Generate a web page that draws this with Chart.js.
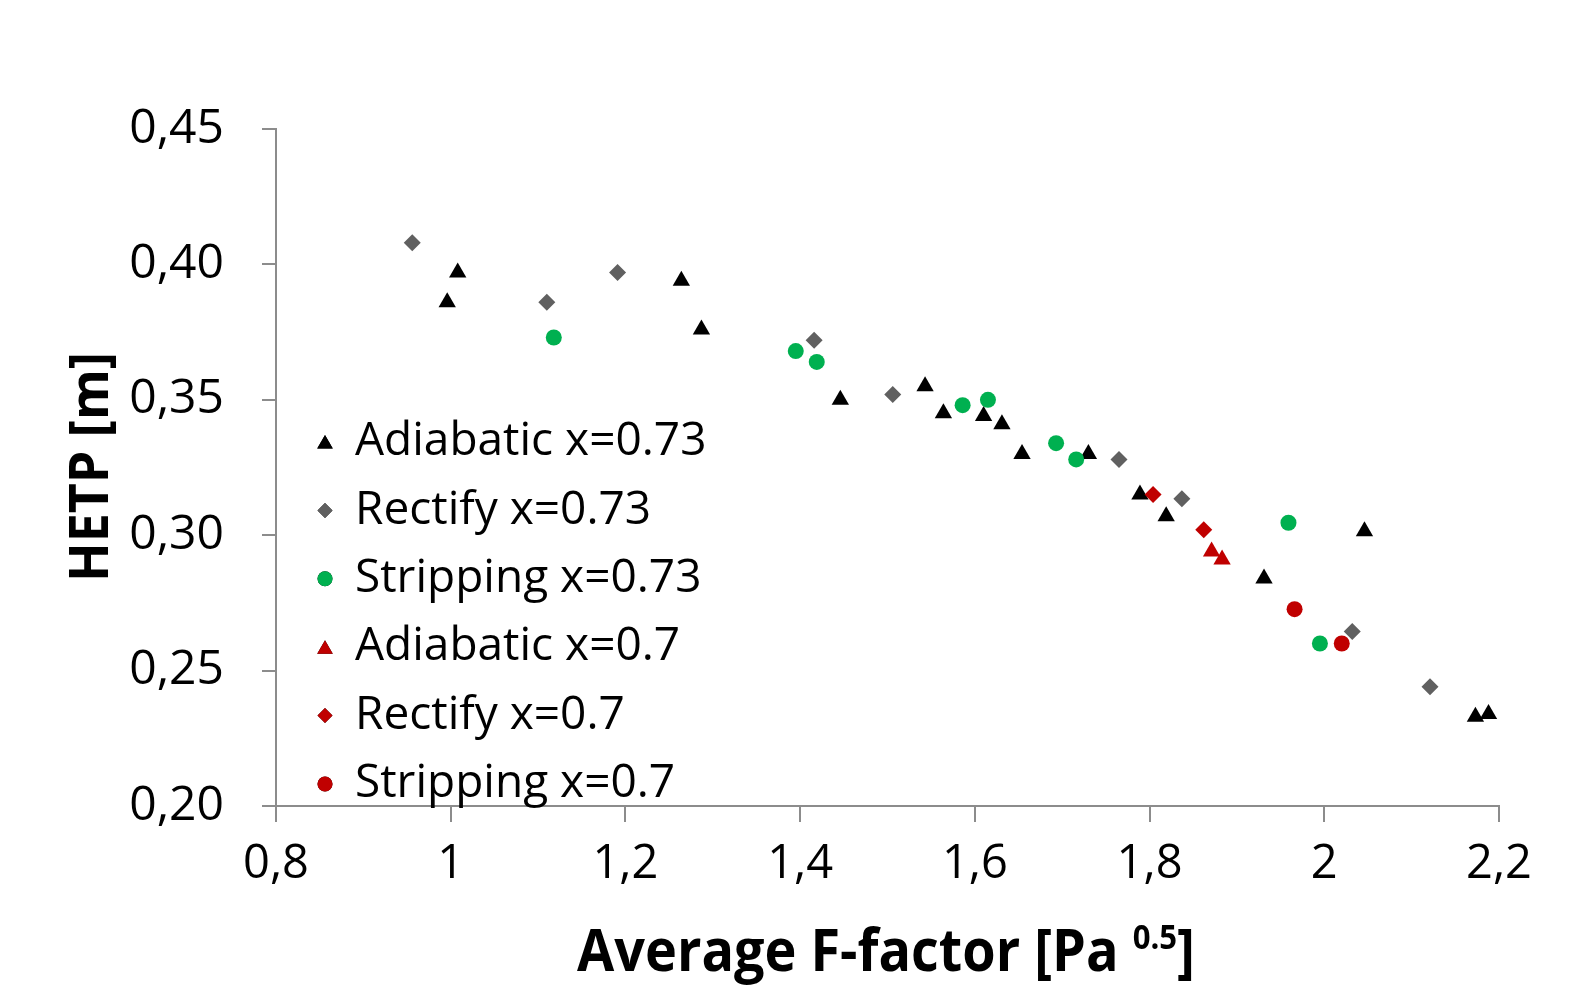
<!DOCTYPE html>
<html>
<head>
<meta charset="utf-8">
<script src="https://cdn.jsdelivr.net/npm/chart.js@4.4.1/dist/chart.umd.min.js"></script>
<style>
  body { margin: 0; background: #fff; }
  #wrap { width: 1583px; height: 988px; }
</style>
</head>
<body>
<div id="wrap"><canvas id="hetp" width="1583" height="988"></canvas></div>
<script>
// F-factor [Pa^0.5] vs HETP [m]
const adiabatic73X = [0.996, 1.008, 1.264, 1.287, 1.446, 1.543, 1.564, 1.610, 1.631, 1.654, 1.730, 1.789, 1.819, 1.931, 2.046, 2.173, 2.188];
const adiabatic73Y = [0.386, 0.397, 0.394, 0.376, 0.350, 0.355, 0.345, 0.344, 0.341, 0.330, 0.330, 0.315, 0.307, 0.284, 0.3015, 0.233, 0.234];

const rectify73X = [0.956, 1.110, 1.191, 1.416, 1.506, 1.765, 1.837, 2.032, 2.121];
const rectify73Y = [0.408, 0.386, 0.397, 0.372, 0.352, 0.328, 0.3135, 0.2644, 0.244];

const stripping73X = [1.118, 1.395, 1.419, 1.586, 1.615, 1.693, 1.716, 1.959, 1.995];
const stripping73Y = [0.373, 0.368, 0.364, 0.348, 0.350, 0.334, 0.328, 0.3046, 0.260];

const adiabatic70X = [1.871, 1.883];
const adiabatic70Y = [0.294, 0.291];

const rectify70X = [1.804, 1.862];
const rectify70Y = [0.315, 0.302];

const stripping70X = [1.966, 2.020];
const stripping70Y = [0.2727, 0.260];

const seriesNames = ['Adiabatic x=0.73', 'Rectify x=0.73', 'Stripping x=0.73', 'Adiabatic x=0.7', 'Rectify x=0.7', 'Stripping x=0.7'];
const xTicks = [0.8, 1.0, 1.2, 1.4, 1.6, 1.8, 2.0, 2.2];
const yTicks = [0.20, 0.25, 0.30, 0.35, 0.40, 0.45];

function pts(xs, ys) {
    return xs.map((x, i) => ({x: x, y: ys[i]}));
}

const styles = [
    {color: '#000000', shape: 'triangle', r: 10},
    {color: '#606060', shape: 'rectRot', r: 8.5},
    {color: '#00b050', shape: 'circle', r: 8},
    {color: '#c00000', shape: 'triangle', r: 10},
    {color: '#c00000', shape: 'rectRot', r: 8.5},
    {color: '#c00000', shape: 'circle', r: 8}
];
const allData = [
    pts(adiabatic73X, adiabatic73Y),
    pts(rectify73X, rectify73Y),
    pts(stripping73X, stripping73Y),
    pts(adiabatic70X, adiabatic70Y),
    pts(rectify70X, rectify70Y),
    pts(stripping70X, stripping70Y)
];

const datasets = allData.map((d, i) => ({
    label: seriesNames[i],
    data: d,
    pointStyle: styles[i].shape,
    pointRadius: styles[i].r,
    pointBackgroundColor: styles[i].color,
    pointBorderWidth: 0,
    borderColor: styles[i].color,
    showLine: false,
    order: seriesNames.length - i
}));

const axisGray = '#8c8c8c';

// legend drawn inside the plot, to the left
const insideLegend = {
    id: 'insideLegend',
    afterDraw(chart) {
        const ctx = chart.ctx;
        ctx.save();
        ctx.font = '46px "Open Sans"';
        ctx.textBaseline = 'middle';
        seriesNames.forEach((name, i) => {
            const y = 442 + i * 68.4;
            const tri = styles[i].shape === 'triangle';
            Chart.helpers.drawPoint(ctx, {
                pointStyle: styles[i].shape,
                radius: tri ? 9 : 7.5,
                rotation: 0,
                borderWidth: 0
            }, 325, y + (tri ? 2 : 0));
            ctx.fillStyle = styles[i].color;
            ctx.fill();
            ctx.fillStyle = '#000';
            ctx.fillText(name, 355, y);
        });
        ctx.restore();
    }
};

// axis titles (superscript on the x title)
const axisTitles = {
    id: 'axisTitles',
    afterDraw(chart) {
        const ctx = chart.ctx;
        ctx.save();
        ctx.fillStyle = '#000';
        ctx.textBaseline = 'alphabetic';

        // x title
        const big = 'bold 59px "Open Sans"';
        const small = 'bold 34px "Open Sans"';
        const main = 'Average F-factor [Pa ';
        ctx.font = big;
        const w1 = ctx.measureText(main).width;
        const w3 = ctx.measureText(']').width;
        ctx.font = small;
        const w2 = ctx.measureText('0.5').width;
        const sx = 618 / (w1 + w2 + w3);
        ctx.save();
        ctx.translate(886 - 309, 971);
        ctx.scale(sx, 1);
        ctx.font = big;
        ctx.fillText(main, 0, 0);
        ctx.font = small;
        ctx.fillText('0.5', w1, -22);
        ctx.font = big;
        ctx.fillText(']', w1 + w2, 0);
        ctx.restore();

        // y title
        ctx.save();
        ctx.font = 'bold 53px "Open Sans"';
        const yt = 'HETP [m]';
        const wy = ctx.measureText(yt).width;
        ctx.translate(108, 467);
        ctx.rotate(-Math.PI / 2);
        ctx.scale(230 / wy, 1);
        ctx.textAlign = 'center';
        ctx.fillText(yt, 0, 0);
        ctx.restore();

        ctx.restore();
    }
};

new Chart(document.getElementById('hetp'), {
    type: 'scatter',
    data: { datasets: datasets },
    options: {
        responsive: false,
        animation: false,
        layout: { padding: { left: 0, top: 129, right: 84, bottom: 0 } },
        plugins: {
            legend: { display: false },
            tooltip: { enabled: false }
        },
        scales: {
            x: {
                type: 'linear',
                min: 0.8,
                max: 2.2,
                afterBuildTicks: (scale) => { scale.ticks = xTicks.map(v => ({value: v})); },
                afterFit: (scale) => { scale.height = 182; },
                ticks: {
                    color: '#000',
                    font: { family: 'Open Sans', size: 47 },
                    padding: 14,
                    maxRotation: 0,
                    callback: (v) => String(Number(v.toFixed(1))).replace('.', ',')
                },
                grid: { drawOnChartArea: false, drawTicks: true, tickLength: 16, color: axisGray, lineWidth: 2 },
                border: { color: axisGray, width: 2 }
            },
            y: {
                type: 'linear',
                min: 0.2,
                max: 0.45,
                afterBuildTicks: (scale) => { scale.ticks = yTicks.map(v => ({value: v})); },
                afterFit: (scale) => { scale.width = 276; },
                ticks: {
                    color: '#000',
                    font: { family: 'Open Sans', size: 48 },
                    padding: 38,
                    callback: (v) => v.toFixed(2).replace('.', ',')
                },
                grid: { drawOnChartArea: false, drawTicks: true, tickLength: 14, color: axisGray, lineWidth: 2 },
                border: { color: axisGray, width: 2 }
            }
        }
    },
    plugins: [insideLegend, axisTitles]
});
</script>
</body>
</html>
